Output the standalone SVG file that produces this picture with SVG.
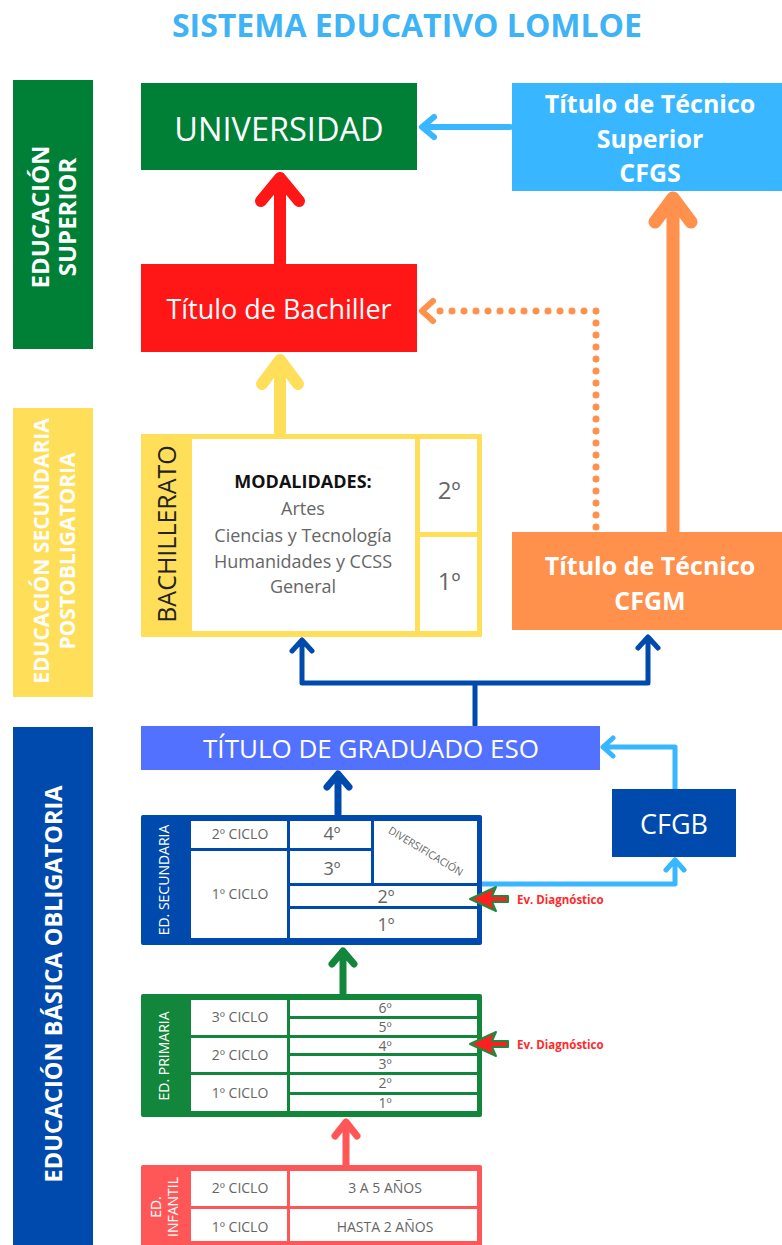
<svg xmlns="http://www.w3.org/2000/svg" width="782" height="1245" viewBox="0 0 782 1245">
<style>
text{font-family:"Open Sans","Noto Sans","DejaVu Sans",sans-serif;text-anchor:middle;dominant-baseline:central}
.w{fill:#ffffff}
.b{font-weight:bold}
.g{fill:#666666}
.cell{fill:#ffffff}
.ar{fill:none;stroke-linecap:round;stroke-linejoin:round}
.ev{fill:#ff1f1f;stroke:#1f8a3f;stroke-width:2;stroke-linejoin:round}
.evt{fill:#ff2a2a;font-weight:bold;font-size:11.5px;text-anchor:start}
</style>
<rect width="782" height="1245" fill="#ffffff"/>
<text x="407" y="24" class="b" font-size="32" fill="#3eb3f5">SISTEMA EDUCATIVO LOMLOE</text>

<g id="bar-superior">
<rect x="13" y="80" width="80" height="269" fill="#008037"/>
<text class="w b" font-size="24" transform="translate(39.5,217) rotate(-90)">EDUCACIÓN</text>
<text class="w b" font-size="24" transform="translate(66.5,217) rotate(-90)">SUPERIOR</text>
</g>
<g id="bar-postobligatoria">
<rect x="13" y="408" width="80" height="289" fill="#ffde59"/>
<text class="w b" font-size="21" transform="translate(41,551) rotate(-90)">EDUCACIÓN SECUNDARIA</text>
<text class="w b" font-size="21" transform="translate(67,551) rotate(-90)">POSTOBLIGATORIA</text>
</g>
<g id="bar-basica">
<rect x="13" y="727" width="80" height="518" fill="#004aad"/>
<text class="w b" font-size="23.5" transform="translate(53,984) rotate(-90)">EDUCACIÓN BÁSICA OBLIGATORIA</text>
</g>

<g id="connectors">
<path class="ar" stroke="#ff1616" stroke-width="12" d="M280,263 L280,180 M261,201 L280,178 L299,201"/>
<path class="ar" stroke="#ffde59" stroke-width="12" d="M280,432 L280,362 M262,384 L280,360 L298,384"/>
<path class="ar" stroke="#ff914d" stroke-width="13" d="M673,532 L673,200 M655,222 L673,198 L691,222"/>
<path class="ar" stroke="#38b6ff" stroke-width="6" d="M510,127 L424,127 M434,117 L422,127 L434,137"/>
<path class="ar" stroke="#ff914d" stroke-width="7" stroke-dasharray="0 12" d="M596,527 L596,311 L430,311"/>
<path class="ar" stroke="#ff914d" stroke-width="6" d="M433,301 L422,311 L433,321"/>
<path class="ar" stroke="#004aad" stroke-width="5" d="M475,725 L475,683 M302,683 L648,683 M302,683 L302,641 M648,683 L648,638 M292,651 L302,640 L312,651 M638,648 L648,637 L658,648"/>
<path class="ar" stroke="#004aad" stroke-width="7" d="M338,814 L338,776 M327,787 L338,774 L349,787"/>
<path class="ar" stroke="#38b6ff" stroke-width="5" d="M480,884 L675,884 L675,862 M666,870 L675,860 L684,870"/>
<path class="ar" stroke="#38b6ff" stroke-width="5" d="M675,789 L675,747 L605,747 M613,738 L603,747 L613,756"/>
<path class="ar" stroke="#12873b" stroke-width="7" d="M343,993 L343,953 M332,964 L343,951 L354,964"/>
<path class="ar" stroke="#ff5757" stroke-width="7" d="M346,1165 L346,1125 M335,1136 L346,1122 L357,1136"/>
</g>

<g id="universidad">
<rect x="141" y="83" width="276" height="87" fill="#008037"/>
<text x="279" y="128" class="w" font-size="32.5">UNIVERSIDAD</text>
</g>
<g id="cfgs">
<rect x="512" y="83" width="270" height="108" fill="#38b6ff"/>
<text x="650" y="103" class="w b" font-size="25">Título de Técnico</text>
<text x="650" y="138" class="w b" font-size="25">Superior</text>
<text x="650" y="172" class="w b" font-size="25">CFGS</text>
</g>
<g id="bachiller">
<rect x="141" y="264" width="276" height="88" fill="#ff1616"/>
<text x="279" y="308" class="w" font-size="27">Título de Bachiller</text>
</g>

<g id="bachillerato">
<rect x="141" y="434" width="341" height="203" fill="#ffde59"/>
<rect class="cell" x="192" y="439" width="223" height="192"/>
<rect class="cell" x="420" y="439" width="57" height="93"/>
<rect class="cell" x="420" y="537" width="57" height="94"/>
<text font-size="25" fill="#222222" transform="translate(166,534) rotate(-90)">BACHILLERATO</text>
<text x="303" y="481" class="b" font-size="18" fill="#111111">MODALIDADES:</text>
<text x="303" y="508" class="g" font-size="18">Artes</text>
<text x="303" y="535" class="g" font-size="18">Ciencias y Tecnología</text>
<text x="303" y="561" class="g" font-size="18">Humanidades y CCSS</text>
<text x="303" y="586" class="g" font-size="18">General</text>
<text x="449" y="489" class="g" font-size="24">2º</text>
<text x="449" y="580" class="g" font-size="24">1º</text>
</g>

<g id="cfgm">
<rect x="512" y="532" width="270" height="98" fill="#ff914d"/>
<text x="650" y="565" class="w b" font-size="25">Título de Técnico</text>
<text x="650" y="600" class="w b" font-size="25">CFGM</text>
</g>

<g id="graduado-eso">
<rect x="141" y="726" width="459" height="44" fill="#5271ff"/>
<text x="371" y="748" class="w" font-size="26">TÍTULO DE GRADUADO ESO</text>
</g>

<g id="cfgb">
<rect x="612" y="789" width="124" height="68" fill="#004aad"/>
<text x="674" y="823" class="w" font-size="27">CFGB</text>
</g>

<g id="ed-secundaria">
<rect x="141" y="815" width="341" height="130" rx="2" fill="#004aad"/>
<rect class="cell" x="191" y="821" width="96" height="27"/>
<rect class="cell" x="191" y="851" width="96" height="87"/>
<rect class="cell" x="290" y="821" width="81" height="27"/>
<rect class="cell" x="290" y="851" width="81" height="32"/>
<rect class="cell" x="374" y="821" width="103" height="62"/>
<rect class="cell" x="290" y="886" width="187" height="20"/>
<rect class="cell" x="290" y="909" width="187" height="29"/>
<text class="w" font-size="14" transform="translate(163,880) rotate(-90)">ED. SECUNDARIA</text>
<text x="240" y="833" class="g" font-size="14">2º CICLO</text>
<text x="240" y="893" class="g" font-size="14">1º CICLO</text>
<text x="332" y="833" class="g" font-size="18">4º</text>
<text x="332" y="868" class="g" font-size="18">3º</text>
<text class="g" font-size="10.5" transform="translate(426,851) rotate(31)">DIVERSIFICACIÓN</text>
<text x="386" y="896" class="g" font-size="18">2º</text>
<text x="386" y="924" class="g" font-size="18">1º</text>
</g>
<g id="ev-secundaria">
<polygon class="ev" points="470,899 496,887 492,896 508,896 508,902 492,902 496,911"/>
<text x="517" y="899" class="evt">Ev. Diagnóstico</text>
</g>

<g id="ed-primaria">
<rect x="141" y="994" width="341" height="123" rx="2" fill="#12873b"/>
<rect class="cell" x="191" y="1000" width="96" height="35"/>
<rect class="cell" x="191" y="1038" width="96" height="34"/>
<rect class="cell" x="191" y="1075" width="96" height="36"/>
<rect class="cell" x="290" y="1000" width="187" height="16"/>
<rect class="cell" x="290" y="1019" width="187" height="16"/>
<rect class="cell" x="290" y="1038" width="187" height="15"/>
<rect class="cell" x="290" y="1056" width="187" height="16"/>
<rect class="cell" x="290" y="1075" width="187" height="17"/>
<rect class="cell" x="290" y="1095" width="187" height="16"/>
<text class="w" font-size="14" transform="translate(163,1056) rotate(-90)">ED. PRIMARIA</text>
<text x="240" y="1016" class="g" font-size="14">3º CICLO</text>
<text x="240" y="1054" class="g" font-size="14">2º CICLO</text>
<text x="240" y="1092" class="g" font-size="14">1º CICLO</text>
<text x="385" y="1007" class="g" font-size="14">6º</text>
<text x="385" y="1026" class="g" font-size="14">5º</text>
<text x="385" y="1045" class="g" font-size="14">4º</text>
<text x="385" y="1063" class="g" font-size="14">3º</text>
<text x="385" y="1082" class="g" font-size="14">2º</text>
<text x="385" y="1102" class="g" font-size="14">1º</text>
</g>
<g id="ev-primaria">
<polygon class="ev" points="470,1044 496,1032 492,1041 508,1041 508,1047 492,1047 496,1056"/>
<text x="517" y="1044" class="evt">Ev. Diagnóstico</text>
</g>

<g id="ed-infantil">
<rect x="141" y="1165" width="341" height="90" rx="2" fill="#ff5757"/>
<rect class="cell" x="191" y="1171" width="96" height="35"/>
<rect class="cell" x="191" y="1209" width="96" height="32"/>
<rect class="cell" x="290" y="1171" width="187" height="35"/>
<rect class="cell" x="290" y="1209" width="187" height="32"/>
<text class="w" font-size="14" transform="translate(155,1207) rotate(-90)">ED.</text>
<text class="w" font-size="14" transform="translate(172,1207) rotate(-90)">INFANTIL</text>
<text x="240" y="1187" class="g" font-size="14">2º CICLO</text>
<text x="385" y="1187" class="g" font-size="14">3 A 5 AÑOS</text>
<text x="240" y="1226" class="g" font-size="14">1º CICLO</text>
<text x="385" y="1226" class="g" font-size="14">HASTA 2 AÑOS</text>
</g>
</svg>
